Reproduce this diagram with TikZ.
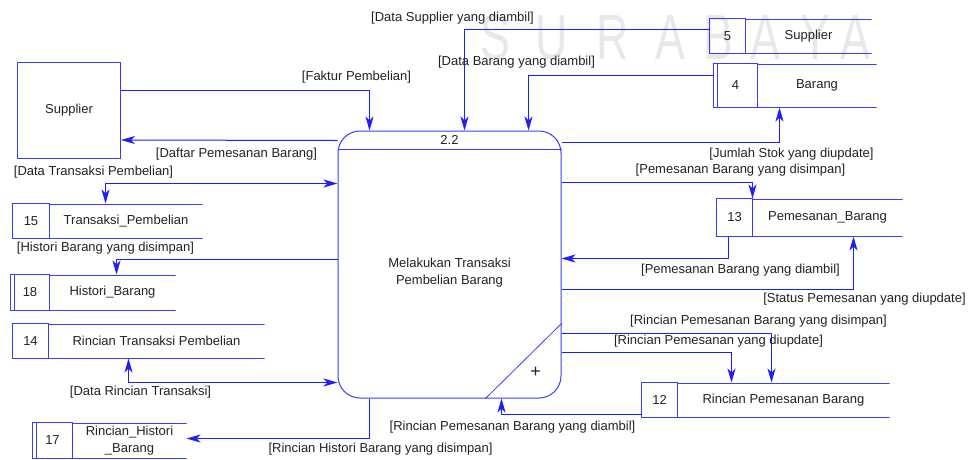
\documentclass[tikz,border=0pt]{standalone}
\usepackage{fontspec}
\setmainfont{Liberation Sans}
\usetikzlibrary{arrows.meta,positioning,calc}
\definecolor{flowblue}{HTML}{1E1EFF}
\definecolor{boxblue}{HTML}{3C3CFF}
\definecolor{txtgray}{HTML}{222222}

\begin{document}
\begin{tikzpicture}[
  x=1pt, y=-1pt,
  font=\fontsize{13}{17}\selectfont,
  >={Stealth[length=14pt,width=8pt,inset=4pt]},
  every node/.style={text=txtgray},
  process/.style={rectangle,rounded corners=22pt,draw=boxblue,line width=1pt,
                  minimum width=223pt,minimum height=267pt,anchor=north west,inner sep=0pt},
  entity/.style={rectangle,draw=boxblue,line width=1pt,
                 minimum width=103pt,minimum height=96pt},
  numcell/.style={rectangle,draw=boxblue,line width=1pt,anchor=north west,
                  inner sep=0pt,outer sep=0pt},
  namecell/.style={rectangle,inner sep=0pt,outer sep=0pt,align=center,
                   path picture={\draw[boxblue,line width=1pt]
                     ([yshift=-0.5pt]path picture bounding box.north west) -- ([yshift=-0.5pt]path picture bounding box.north east)
                     ([yshift=0.5pt]path picture bounding box.south west) -- ([yshift=0.5pt]path picture bounding box.south east);}},
  dbl/.style={path picture={\draw[boxblue,line width=1pt]
                ([xshift=4pt]path picture bounding box.north west) --
                ([xshift=4pt]path picture bounding box.south west);}},
  flow/.style={->,line width=1pt,color=flowblue},
  flow2/.style={<->,line width=1pt,color=flowblue},
  wm/.style={text=black!9,font=\fontsize{64}{64}\selectfont}
]
  \useasboundingbox (-0.5,-0.5) rectangle (968.5,458.5);

  % watermark
  \foreach \c/\x in {S/495,U/551,R/612,A/670,B/718,A/765,Y/815,A/855}
    \node[wm] (wm\x) at (\x,37) {\scalebox{0.7}[1]{\c}};

  % process
  \node[process] (proc) at (337,130) {};
  \node (procid) at ($(proc.north)+(0,9)$) {2.2};
  \draw[boxblue,line width=1pt] ($(proc.north west)+(0,19)$) -- ($(proc.north east)+(0,19)$);
  \node[align=center] (proctxt) at ($(proc.center)+(0,8.5)$) {Melakukan Transaksi\\Pembelian Barang};
  \draw[boxblue,line width=0.8pt] ($(proc.north east)+(0,193)$) -- ($(proc.south west)+(148,0)$);
  \node[font=\fontsize{18}{18}\selectfont] (plus) at ($(proc.south east)+(-26,-26)$) {+};

  % external entity
  \node[entity] (sup) at (68.5,110) {Supplier};

  % data stores
  \node[numcell,minimum width=36pt,minimum height=35pt] (n5) at (709,18) {5};
  \node[namecell,minimum width=126pt,minimum height=35pt,right=0pt of n5] (s5) {Supplier};
  \node[numcell,dbl,minimum width=44pt,minimum height=44pt] (n4) at (713,63) {4};
  \node[namecell,minimum width=119pt,minimum height=44pt,right=0pt of n4] (s4) {Barang};
  \node[numcell,minimum width=37pt,minimum height=35pt] (n15) at (12,203) {15};
  \node[namecell,minimum width=153pt,minimum height=35pt,right=0pt of n15] (s15) {Transaksi\_Pembelian};
  \node[numcell,minimum width=36pt,minimum height=38pt] (n13) at (716,198) {13};
  \node[namecell,minimum width=150pt,minimum height=38pt,right=0pt of n13] (s13) {Pemesanan\_Barang};
  \node[numcell,dbl,minimum width=39pt,minimum height=36pt] (n18) at (10,274) {18};
  \node[namecell,minimum width=126pt,minimum height=36pt,right=0pt of n18] (s18) {Histori\_Barang};
  \node[numcell,minimum width=36pt,minimum height=35pt] (n14) at (12,323) {14};
  \node[namecell,minimum width=216pt,minimum height=35pt,right=0pt of n14] (s14) {Rincian Transaksi Pembelian};
  \node[numcell,minimum width=36pt,minimum height=35pt] (n12) at (641,382) {12};
  \node[namecell,minimum width=212pt,minimum height=35pt,right=0pt of n12] (s12) {Rincian Pemesanan Barang};
  \node[numcell,dbl,minimum width=40pt,minimum height=36pt] (n17) at (32,422) {17};
  \node[namecell,minimum width=114pt,minimum height=36pt,right=0pt of n17] (s17) {Rincian\_Histori\\\_Barang};

  % data flows
  \draw[flow] ($(sup.north east)+(0,28)$) -| ($(proc.north west)+(32,0)$);
  \node (lfaktur) at (356,77) {[Faktur Pembelian]};

  \draw[flow] ($(proc.north west)+(0,10)$) -- ($(sup.north east)+(0,78)$);
  \node (ldaftar) at (236,154) {[Daftar Pemesanan Barang]};

  \draw[flow2] ($(s15.north west)+(56,0)$) |- ($(proc.north west)+(0,53)$);
  \node (ltrans) at (93,172) {[Data Transaksi Pembelian]};

  \draw[flow] ($(n5.north west)+(0,11)$) -| ($(proc.north west)+(127,0)$);
  \node (lsupp) at (452,18) {[Data Supplier yang diambil]};

  \draw[flow] ($(n4.north west)+(0,12)$) -| ($(proc.north west)+(191,0)$);
  \node (lbarang) at (516,62) {[Data Barang yang diambil]};

  \draw[flow] ($(proc.north east)+(0,12)$) -| ($(s4.south west)+(22,0)$);
  \node (lstok) at (791,154) {[Jumlah Stok yang diupdate]};

  \draw[flow] ($(proc.north east)+(0,52)$) -| (n13.north east);
  \node (lpsimpan) at (740,170) {[Pemesanan Barang yang disimpan]};

  \draw[flow] ($(n13.south west)+(12,0)$) |- ($(proc.north east)+(0,128)$);
  \node (lpambil) at (740,270) {[Pemesanan Barang yang diambil]};

  \draw[flow] ($(proc.north east)+(0,159)$) -| ($(s13.south west)+(101,0)$);
  \node (lstatus) at (864,299) {[Status Pemesanan yang diupdate]};

  \draw[flow] ($(proc.north east)+(0,203)$) -| ($(s12.north west)+(94,0)$);
  \node (lrsimpan) at (758,321) {[Rincian Pemesanan Barang yang disimpan]};

  \draw[flow] ($(proc.north east)+(0,222)$) -| ($(s12.north west)+(54,0)$);
  \node (lrupdate) at (718,341) {[Rincian Pemesanan yang diupdate]};

  \draw[flow] ($(n12.south west)+(0,-3)$) -| ($(proc.south west)+(164,0)$);
  \node (lrambil) at (512,427) {[Rincian Pemesanan Barang yang diambil]};

  \draw[flow] ($(proc.south west)+(32,0)$) |- ($(s17.east)+(0,-2)$);
  \node (lrhist) at (380,449) {[Rincian Histori Barang yang disimpan]};

  \draw[flow] ($(proc.north west)+(0,129)$) -| ($(s18.north west)+(67,0)$);
  \node (lhist) at (105,248) {[Histori Barang yang disimpan]};

  \draw[flow2] ($(s14.south west)+(80,0)$) |- ($(proc.north west)+(0,252)$);
  \node (lrinci) at (140,392) {[Data Rincian Transaksi]};
\end{tikzpicture}
\end{document}
